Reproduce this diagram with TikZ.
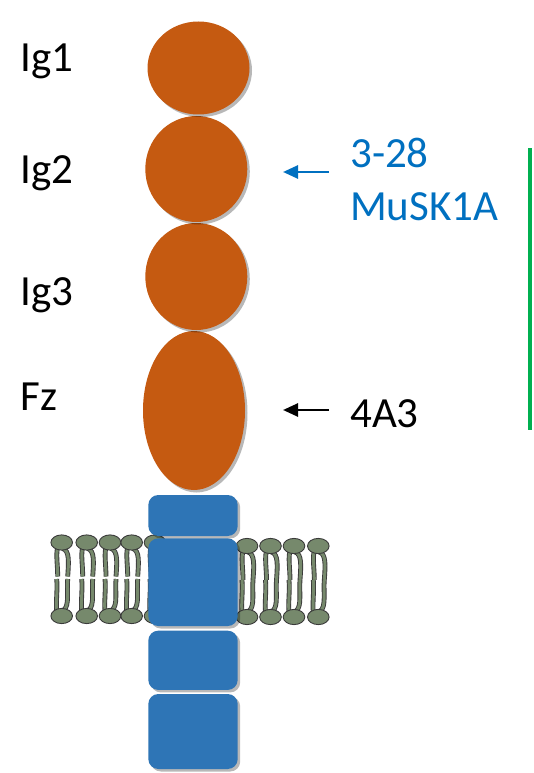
\documentclass[tikz,border=0pt]{standalone}
\usepackage{fontspec}
\setmainfont{Carlito}
\usetikzlibrary{shapes.geometric,shadows,arrows.meta}
\definecolor{domainorange}{HTML}{C55A11}
\definecolor{domainblue}{HTML}{2E75B6}
\definecolor{labelblue}{HTML}{0070C0}
\definecolor{lipidgreen}{RGB}{118,137,108}
\definecolor{lipidedge}{HTML}{3A3A3A}
\definecolor{bargreen}{HTML}{00B050}
\tikzset{
  softshadow/.style={drop shadow={shadow xshift=2.5pt,shadow yshift=-2.5pt,opacity=0.28,fill=black}},
  igdomain/.style={ellipse, fill=domainorange, inner sep=0pt, softshadow},
  tmbox/.style={rectangle, rounded corners=10pt, fill=domainblue, inner sep=0pt,
    minimum width=89.4pt, softshadow},
  lbl/.style={anchor=base west, inner sep=0pt, font=\fontsize{43}{50}\selectfont},
  lipidhead/.style={fill=lipidgreen, draw=lipidedge, line width=0.9pt},
  tail/.style={draw=lipidedge, line width=0.9pt, double=lipidgreen, double distance=3pt},
  pointer/.style={line width=2.6pt, -{Triangle[length=15pt,width=13pt]}},
}
\begin{document}
\begin{tikzpicture}[x=1pt,y=-1pt]
\useasboundingbox[fill=white] (0,0) rectangle (534,773);

% lipid bilayer: tails first, heads on top
\foreach \x/\yt/\yb in {61.7/542.5/616, 86.7/542.5/616, 110/542.5/616, 131.7/542.5/616, 155/542.5/616,
                        247/546/617, 270.5/546/617, 294/546/617, 318.3/546/617}{
  % upper leaflet tails
  \draw[tail] (\x-4,\yt+5) .. controls (\x-6,\yt+12) and (\x-4,\yt+22) .. (\x-4,\yt+34);
  \draw[tail] (\x+1,\yt+6) .. controls (\x+8,\yt+8) and (\x+7,\yt+20) .. (\x+6,\yt+34);
  % lower leaflet tails
  \draw[tail] (\x-5,\yb-5) .. controls (\x-6,\yb-14) and (\x-4,\yb-26) .. (\x-5,\yb-37);
  \draw[tail] (\x+2,\yb-6) .. controls (\x+8,\yb-10) and (\x+5,\yb-26) .. (\x+6,\yb-37);
  \draw[lipidhead] (\x,\yt) ellipse [x radius=10.8, y radius=7.6];
  \draw[lipidhead] (\x,\yb) ellipse [x radius=10.8, y radius=7.6];
}

% transmembrane and intracellular blocks
\node[tmbox, minimum height=41pt]   (tm1) at (193,515.5) {};
\node[tmbox, minimum height=87.7pt] (tm2) at (193,582.2) {};
\node[tmbox, minimum height=59.3pt] (tm3) at (193,660.3) {};
\node[tmbox, minimum height=75pt]   (tm4) at (193,731.5) {};

% extracellular domains, drawn bottom-up so each casts onto the next
\node[igdomain, minimum width=102pt, minimum height=159pt] (fz)  at (194,410.5) {};
\node[igdomain, minimum width=102pt, minimum height=107pt] (ig3) at (196.3,276.5) {};
\node[igdomain, minimum width=102pt, minimum height=106pt] (ig2) at (196.3,169) {};
\node[igdomain, minimum width=102pt, minimum height=93pt]  (ig1) at (198.5,68) {};

% domain names
\node[lbl] (tig1) at (20.7,72) {Ig1};
\node[lbl] (tig2) at (20.7,183) {Ig2};
\node[lbl] (tig3) at (20.7,305) {Ig3};
\node[lbl] (tfz)  at (20.7,410) {Fz};

% antibody binding sites
\node[lbl, text=labelblue] (t328)  at (350,167) {3-28};
\node[lbl, text=labelblue] (tmusk) at (350,220) {MuSK1A};
\node[lbl] (t4a3) at (350,427) {4A3};

\coordinate (a1s) at (329,172);
\coordinate (a1e) at (283,172);
\coordinate (a2s) at (329,410);
\coordinate (a2e) at (283,410);
\draw[pointer, labelblue] (a1s) -- (a1e);
\draw[pointer, black] (a2s) -- (a2e);

% region bar
\coordinate (bartop) at (530,148);
\coordinate (barbot) at (530,430);
\draw[bargreen, line width=4pt] (bartop) -- (barbot);
\end{tikzpicture}
\end{document}
